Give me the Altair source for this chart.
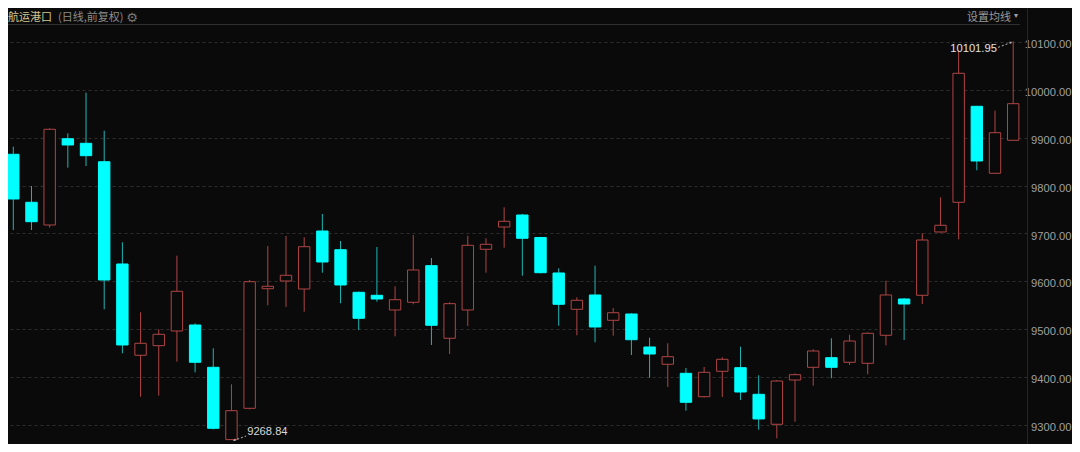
import altair as alt
import pandas as pd

# ---------------- data ----------------
day_index = list(range(56))
open_px = [9865.7, 9765.3, 9717.8, 9898.3, 9888.7, 9850.2, 9636.2, 9445.2, 9465.3, 9496.0,
           9508.6, 9420.1, 9268.84, 9334.3, 9584.5, 9600.6, 9583.9, 9705.2, 9666.1, 9577.0,
           9570.7, 9540.0, 9556.1, 9632.7, 9480.8, 9540.0, 9667.0, 9713.6, 9738.7, 9691.6,
           9617.4, 9541.4, 9571.4, 9518.4, 9531.6, 9462.6, 9426.4, 9407.5, 9358.6, 9411.7,
           9419.3, 9363.6, 9300.9, 9393.5, 9420.1, 9440.2, 9430.6, 9428.5, 9487.1, 9563.0,
           9570.7, 9703.2, 9765.3, 9966.1, 9826.0, 9895.0]
high_px = [9881.6, 9799.4, 9920.1, 9909.6, 9994.6, 9915.1, 9681.6, 9535.2, 9499.6, 9653.6,
           9512.1, 9459.9, 9384.5, 9602.7, 9673.9, 9694.8, 9692.1, 9740.8, 9684.3, 9578.5,
           9671.8, 9589.5, 9696.9, 9648.8, 9556.1, 9695.4, 9690.0, 9754.8, 9741.0, 9693.0,
           9627.2, 9566.5, 9632.7, 9544.2, 9533.0, 9482.0, 9470.3, 9418.6, 9420.7, 9441.0,
           9463.2, 9403.4, 9393.5, 9407.5, 9457.8, 9480.8, 9488.3, 9493.0, 9601.3, 9565.0,
           9700.4, 9775.7, 10083.9, 9967.0, 9956.9, 10101.95]
low_px = [9707.3, 9707.3, 9712.2, 9837.7, 9841.2, 9541.4, 9449.4, 9358.6, 9360.7, 9431.8,
          9409.6, 9290.0, 9268.84, 9332.0, 9549.8, 9546.3, 9536.4, 9618.0, 9554.0, 9498.1,
          9557.3, 9485.0, 9552.0, 9466.8, 9447.9, 9506.5, 9618.0, 9670.3, 9611.7, 9616.8,
          9507.1, 9487.1, 9472.4, 9486.2, 9445.8, 9398.3, 9378.9, 9329.3, 9357.0, 9358.0,
          9351.7, 9289.6, 9271.6, 9306.3, 9381.6, 9397.1, 9424.9, 9405.5, 9466.1, 9477.2,
          9552.5, 9702.0, 9687.9, 9832.2, 9825.0, 9894.0]
close_px = [9772.2, 9724.7, 9918.0, 9885.2, 9862.8, 9602.7, 9466.8, 9470.3, 9489.1, 9579.1,
            9430.6, 9292.5, 9329.3, 9599.2, 9589.6, 9612.6, 9672.4, 9640.4, 9592.3, 9522.6,
            9563.0, 9561.5, 9623.7, 9508.0, 9553.2, 9675.3, 9677.4, 9725.5, 9690.0, 9618.0,
            9551.9, 9560.3, 9504.4, 9534.3, 9477.8, 9447.9, 9442.3, 9346.9, 9409.6, 9436.8,
            9368.4, 9312.0, 9391.4, 9404.6, 9454.2, 9420.1, 9475.1, 9491.2, 9571.4, 9552.5,
            9686.4, 9717.2, 10035.2, 9851.7, 9910.9, 9971.6]

y_ticks = [9300, 9400, 9500, 9600, 9700, 9800, 9900, 10000, 10100]

high_mark_index = [55]
high_mark_value = [10101.95]
high_mark_label = ["10101.95"]
low_mark_index = [12]
low_mark_value = [9268.84]
low_mark_label = ["9268.84"]

title_main = "航运港口"
title_sub = "(日线,前复权)"
gear_icon = "⚙"
ma_button = "设置均线"
ma_arrow = "▾"

# ---------------- styling ----------------
BG = "#0a0a0a"
RED = "#b04545"
CYAN = "#00ffff"
CYAN_WICK = "#1fb5b5"
W, H = 1019, 436
CJK = "Noto Sans CJK SC"
NUM = "Liberation Sans"

df = pd.DataFrame({"i": day_index, "open": open_px, "high": high_px,
                   "low": low_px, "close": close_px})

step = 18.36
x_scale = alt.Scale(domain=[-0.3 / step, (W - 0.3) / step], nice=False, zero=False)
px_per_unit = 0.478
y_top = 10100 + (42.3 - 8) / px_per_unit
y_bot = 10100 - (H + 8 - 42.3) / px_per_unit
y_scale = alt.Scale(domain=[y_bot, y_top], nice=False, zero=False)

y_axis = alt.Axis(orient="right", values=y_ticks, format=".2f", title=None,
                  labelAlign="right", labelBaseline="middle", labelPadding=44,
                  labelOffset=2.5, ticks=False, tickSize=0, domain=True,
                  domainColor="#262626", grid=True, gridColor="#2e2e2e",
                  gridDash=[3, 3], labelColor="#a0a0a0", labelFont=NUM,
                  labelFontSize=11.2, labelFlush=False, labelOverlap=False)

X = alt.X("i:Q", scale=x_scale, axis=None)
up = "datum.close >= datum.open"

wick = alt.Chart(df).mark_rule(strokeWidth=1).encode(
    x=X,
    y=alt.Y("low:Q", scale=y_scale, axis=y_axis),
    y2="high:Q",
    color=alt.condition(up, alt.value(RED), alt.value(CYAN_WICK)),
)

body = alt.Chart(df).mark_bar(size=11.4, strokeWidth=1).encode(
    x=X,
    y=alt.Y("open:Q", scale=y_scale, axis=y_axis),
    y2="close:Q",
    fill=alt.condition(up, alt.value(BG), alt.value(CYAN)),
    stroke=alt.condition(up, alt.value(RED), alt.value(CYAN)),
)

hi_df = pd.DataFrame({"i": high_mark_index, "v": high_mark_value, "t": high_mark_label})
lo_df = pd.DataFrame({"i": low_mark_index, "v": low_mark_value, "t": low_mark_label})

def enc_pt(ch):
    return ch.encode(x=X, y=alt.Y("v:Q", scale=y_scale, axis=y_axis))

hi_text = enc_pt(alt.Chart(hi_df).mark_text(align="right", baseline="middle", dx=-16.3, dy=8,
                                            color="#e4e4e4", font=NUM, fontSize=11.2)).encode(text="t:N")
hi_line = alt.Chart(hi_df).mark_rule(strokeDash=[2, 2], color="#bdbdbd", strokeWidth=1,
                                     xOffset=-2, yOffset=1, x2Offset=-15, y2Offset=6).encode(
    x=X, y=alt.Y("v:Q", scale=y_scale, axis=y_axis), x2="i:Q", y2="v:Q")
hi_head = enc_pt(alt.Chart(hi_df).mark_point(shape="triangle-right", size=9, filled=True,
                                             color="#bdbdbd", angle=338, xOffset=-2, yOffset=1))

lo_text = enc_pt(alt.Chart(lo_df).mark_text(align="left", baseline="middle", dx=15.7, dy=-7.7,
                                            color="#d8d8d8", font=NUM, fontSize=11.2)).encode(text="t:N")
lo_line = alt.Chart(lo_df).mark_rule(strokeDash=[2, 2], color="#bdbdbd", strokeWidth=1,
                                     xOffset=2, yOffset=1, x2Offset=14.7, y2Offset=-3.6).encode(
    x=X, y=alt.Y("v:Q", scale=y_scale, axis=y_axis), x2="i:Q", y2="v:Q")
lo_head = enc_pt(alt.Chart(lo_df).mark_point(shape="triangle-left", size=9, filled=True,
                                             color="#bdbdbd", angle=340, xOffset=3, yOffset=0.5))

def header_text(txt, x, y, color, font, size, align="left"):
    return alt.Chart(pd.DataFrame({"t": [txt]})).mark_text(
        align=align, baseline="middle", color=color, font=font, fontSize=size
    ).encode(text="t:N", x=alt.value(x), y=alt.value(y))

HY = 9.5
h1 = header_text(title_main, 0, HY, "#cfc792", CJK, 11)
h2 = header_text(title_sub, 50, HY, "#8c8c8c", CJK, 11)
h3 = header_text(gear_icon, 124, HY, "#7a7a7a", "DejaVu Sans", 13, align="center")
h4 = header_text(ma_button, 959, HY, "#9a9a9a", CJK, 11)
h5 = header_text(ma_arrow, 1008, HY - 1.5, "#a0a0a0", "DejaVu Sans", 8, align="center")
sep = alt.Chart(pd.DataFrame({"a": [0]})).mark_rule(color="#2f2f2f", strokeWidth=1).encode(
    x=alt.value(0), x2=alt.value(1012), y=alt.value(16.5))

chart = alt.layer(
    wick, body, hi_line, hi_head, hi_text, lo_line, lo_head, lo_text,
    sep, h1, h2, h3, h4, h5
).properties(
    width=W, height=H,
    autosize=alt.AutoSizeParams(type="none"),
    padding={"left": 0, "top": 0, "right": 45, "bottom": 0},
    background=BG,
).configure_view(stroke=None)

chart.save("out.html", embed_options={"renderer": "svg", "actions": False})
